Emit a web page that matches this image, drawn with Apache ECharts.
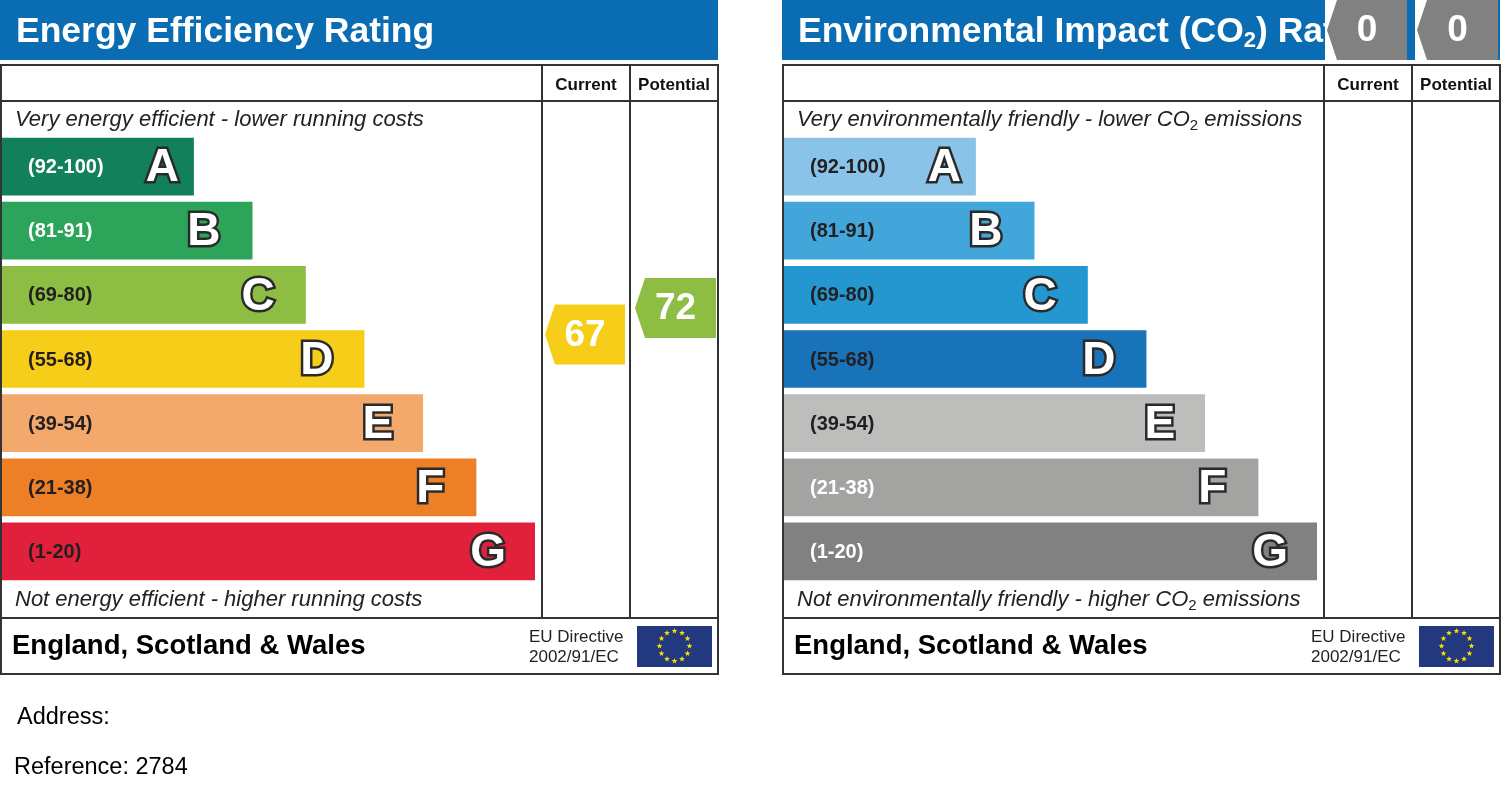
<!DOCTYPE html>
<html>
<head>
<meta charset="utf-8">
<title>EPC</title>
<script src="https://cdn.jsdelivr.net/npm/echarts@6/dist/echarts.min.js"></script>
<style>
  html, body { margin: 0; padding: 0; background: #fff; }
  #main { width: 1501px; height: 805px; }
</style>
</head>
<body>
<div id="main"></div>
<script>
// 数据
const bandLetters = ['A', 'B', 'C', 'D', 'E', 'F', 'G'];
const bandRanges = ['(92-100)', '(81-91)', '(69-80)', '(55-68)', '(39-54)', '(21-38)', '(1-20)'];
const bandLow = [92, 81, 69, 55, 39, 21, 1];
const bandHigh = [100, 91, 80, 68, 54, 38, 20];
const bandLength = [36, 47, 57, 68, 79, 89, 100];
const ratingColumns = ['Current', 'Potential'];
const energyRatings = [67, 72];
const envRatings = [0, 0];
const address = '';
const reference = '2784';

// 样式
const energyColors = ['#12805a', '#2ca55a', '#8dbe43', '#f6cd18', '#f2a96b', '#ed8027', '#e1213c'];
const envColors = ['#89c4e8', '#43a6db', '#2597d0', '#1873b9', '#bdbdbc', '#a3a3a2', '#818181'];
const energyDarkLabel = [false, false, true, true, true, true, true];
const envDarkLabel = [true, true, true, true, true, false, false];
const letterInset = [13, 30, 29, 29, 28, 30, 27];

const FONT = '"Liberation Sans", Arial, sans-serif';
const BLUE = '#0a6db3';
const LINE = '#333';
const HEAD_H = 60;
const BAND_TOP = 134.5;
const BAND_H = 449;
const PANELS = [0, 782];

function bandOf(r) {
  for (let i = 0; i < bandLow.length; i++) {
    if (r >= bandLow[i] && r <= bandHigh[i]) return i;
  }
  return -1;
}

function star(cx, cy, ro, ri) {
  const pts = [];
  for (let k = 0; k < 10; k++) {
    const a = -Math.PI / 2 + k * Math.PI / 5;
    const r = k % 2 ? ri : ro;
    pts.push([cx + r * Math.cos(a), cy + r * Math.sin(a)]);
  }
  return pts;
}

function panelGraphic(ox, title, topText, bottomText) {
  const g = [];
  const line = (x1, y1, x2, y2) => g.push({
    type: 'line', shape: { x1, y1, x2, y2 }, style: { stroke: LINE, lineWidth: 2 }
  });
  const text = (x, y, t, font, extra) => g.push({
    type: 'text', x, y,
    style: Object.assign({ text: t, font, fill: '#111', verticalAlign: 'middle', align: 'left' }, extra || {})
  });

  g.push({ type: 'rect', shape: { x: ox, y: 0, width: 718, height: HEAD_H }, style: { fill: BLUE } });
  g.push({
    type: 'rect', shape: { x: ox + 1, y: 65, width: 717, height: 609 },
    style: { fill: 'none', stroke: LINE, lineWidth: 2 }
  });
  line(ox + 1, 101, ox + 718, 101);
  line(ox + 1, 618, ox + 718, 618);
  line(ox + 542, 65, ox + 542, 618);
  line(ox + 630, 65, ox + 630, 618);

  // 标题
  g.push({
    type: 'text', x: ox + 16, y: 32,
    style: {
      text: title, verticalAlign: 'middle', fill: '#fff',
      rich: {
        t: { fontSize: 35.5, fontWeight: 'bold', fontFamily: FONT, fill: '#fff', lineHeight: 40 },
        s: { fontSize: 22, fontWeight: 'bold', fontFamily: FONT, fill: '#fff', lineHeight: 20, verticalAlign: 'bottom' }
      }
    }
  });
  text(ox + 586, 85, 'Current', 'bold 17px ' + FONT, { align: 'center' });
  text(ox + 674, 85, 'Potential', 'bold 17px ' + FONT, { align: 'center' });

  const italicRich = {
    t: { fontSize: 22, fontStyle: 'italic', fontFamily: FONT, fill: '#222', lineHeight: 26 },
    s: { fontSize: 15, fontFamily: FONT, fill: '#222', lineHeight: 14, verticalAlign: 'bottom' }
  };
  g.push({ type: 'text', x: ox + 15, y: 120, style: { text: topText, verticalAlign: 'middle', rich: italicRich } });
  g.push({ type: 'text', x: ox + 15, y: 600, style: { text: bottomText, verticalAlign: 'middle', rich: italicRich } });

  // 底部
  text(ox + 12, 646, 'England, Scotland & Wales', 'bold 27.5px ' + FONT, { fill: '#000' });
  text(ox + 529, 637, 'EU Directive', '17px ' + FONT, { fill: '#222' });
  text(ox + 529, 657, '2002/91/EC', '17px ' + FONT, { fill: '#222' });
  g.push({ type: 'rect', shape: { x: ox + 637, y: 626, width: 75, height: 41 }, style: { fill: '#22397f' } });
  for (let k = 0; k < 12; k++) {
    const a = k * Math.PI / 6;
    g.push({
      type: 'polygon',
      shape: { points: star(ox + 674.5 + 15 * Math.cos(a), 646 + 15 * Math.sin(a), 3, 1.3) },
      style: { fill: '#ffdd00' }
    });
  }
  return g;
}

function bandSeries(idx, colors, darkLabel) {
  return {
    type: 'custom',
    xAxisIndex: idx,
    yAxisIndex: idx,
    data: bandLength.map((v, i) => [v, i]),
    renderItem(params, api) {
      const i = params.dataIndex;
      const start = api.coord([0, api.value(1)]);
      const end = api.coord([api.value(0), api.value(1)]);
      const h = api.size([0, 1])[1] * 0.9;
      return {
        type: 'group',
        children: [
          { type: 'rect', shape: { x: start[0], y: start[1] - h / 2, width: end[0] - start[0], height: h }, style: { fill: colors[i] } },
          {
            type: 'text',
            style: {
              text: bandRanges[i], x: start[0] + 26, y: start[1] + 1,
              font: 'bold 20px ' + FONT, fill: darkLabel[i] ? '#231f20' : '#fff',
              verticalAlign: 'middle', align: 'left'
            }
          },
          {
            type: 'text',
            style: {
              text: bandLetters[i], x: end[0] - letterInset[i] - 2, y: end[1] + 2,
              font: 'bold 46px ' + FONT, fill: '#fff', stroke: '#2a2a2a', lineWidth: 5,
              strokeFirst: true, verticalAlign: 'middle', align: 'right'
            }
          }
        ]
      };
    }
  };
}

function arrowSeries(idx, ratings, colors) {
  return {
    type: 'custom',
    xAxisIndex: idx,
    yAxisIndex: idx,
    z: 5,
    data: ratings.map((r, i) => [i, Math.max(bandOf(r), 0), r]),
    renderItem(params, api) {
      const col = api.value(0);
      const rating = api.value(2);
      const b = bandOf(rating);
      const colW = api.size([1, 0])[0];
      const left = api.coord([col, 0])[0] - colW / 2 + 3 + col * 2;
      const w = colW - 8 + col, h = 60, tip = 10;
      let cy;
      if (b >= 0) {
        const bh = api.size([0, 1])[1] * 0.9;
        const bottom = api.coord([col, b])[1] + bh / 2;
        cy = bottom - (rating - bandLow[b]) / (bandHigh[b] - bandLow[b]) * bh;
      } else {
        cy = HEAD_H / 2; // 超出范围时固定在标题栏
      }
      const fill = b >= 0 ? colors[b] : colors[colors.length - 1];
      const top = cy - h / 2;
      return {
        type: 'group',
        children: [
          { type: 'rect', shape: { x: left - 2, y: top, width: w + 2, height: h }, style: { fill: '#fff' } },
          {
            type: 'polygon',
            shape: { points: [[left, cy], [left + tip, top], [left + w, top], [left + w, top + h], [left + tip, top + h]] },
            style: { fill }
          },
          {
            type: 'text',
            style: {
              text: String(rating), x: left + w / 2, y: cy + 1,
              font: 'bold 37px ' + FONT, fill: '#fff', align: 'center', verticalAlign: 'middle'
            }
          }
        ]
      };
    }
  };
}

const chart = echarts.init(document.getElementById('main'), null, { renderer: 'canvas' });

const graphic = []
  .concat(panelGraphic(PANELS[0], '{t|Energy Efficiency Rating}',
    '{t|Very energy efficient - lower running costs}',
    '{t|Not energy efficient - higher running costs}'))
  .concat(panelGraphic(PANELS[1], '{t|Environmental Impact (CO}{s|2}{t|) Rating}',
    '{t|Very environmentally friendly - lower CO}{s|2}{t| emissions}',
    '{t|Not environmentally friendly - higher CO}{s|2}{t| emissions}'));
graphic.push({ type: 'text', x: 17, y: 718, style: { text: 'Address: ' + address, font: '23.5px ' + FONT, fill: '#000', verticalAlign: 'middle' } });
graphic.push({ type: 'text', x: 14, y: 768, style: { text: 'Reference: ' + reference, font: '23.5px ' + FONT, fill: '#000', verticalAlign: 'middle' } });

const bandGrid = ox => ({ left: ox + 2, top: BAND_TOP, width: 533, height: BAND_H });
const arrowGrid = ox => ({ left: ox + 542, top: BAND_TOP, width: 176, height: BAND_H });
const bandY = { type: 'category', data: bandLetters, inverse: true, show: false };

chart.setOption({
  animation: false,
  backgroundColor: '#fff',
  graphic,
  grid: [bandGrid(PANELS[0]), bandGrid(PANELS[1]), arrowGrid(PANELS[0]), arrowGrid(PANELS[1])],
  xAxis: [
    { type: 'value', min: 0, max: 100, show: false, gridIndex: 0 },
    { type: 'value', min: 0, max: 100, show: false, gridIndex: 1 },
    { type: 'category', data: ratingColumns, show: false, gridIndex: 2 },
    { type: 'category', data: ratingColumns, show: false, gridIndex: 3 }
  ],
  yAxis: [0, 1, 2, 3].map(i => Object.assign({ gridIndex: i }, bandY)),
  series: [
    bandSeries(0, energyColors, energyDarkLabel),
    bandSeries(1, envColors, envDarkLabel),
    arrowSeries(2, energyRatings, energyColors),
    arrowSeries(3, envRatings, envColors)
  ]
});
</script>
</body>
</html>
